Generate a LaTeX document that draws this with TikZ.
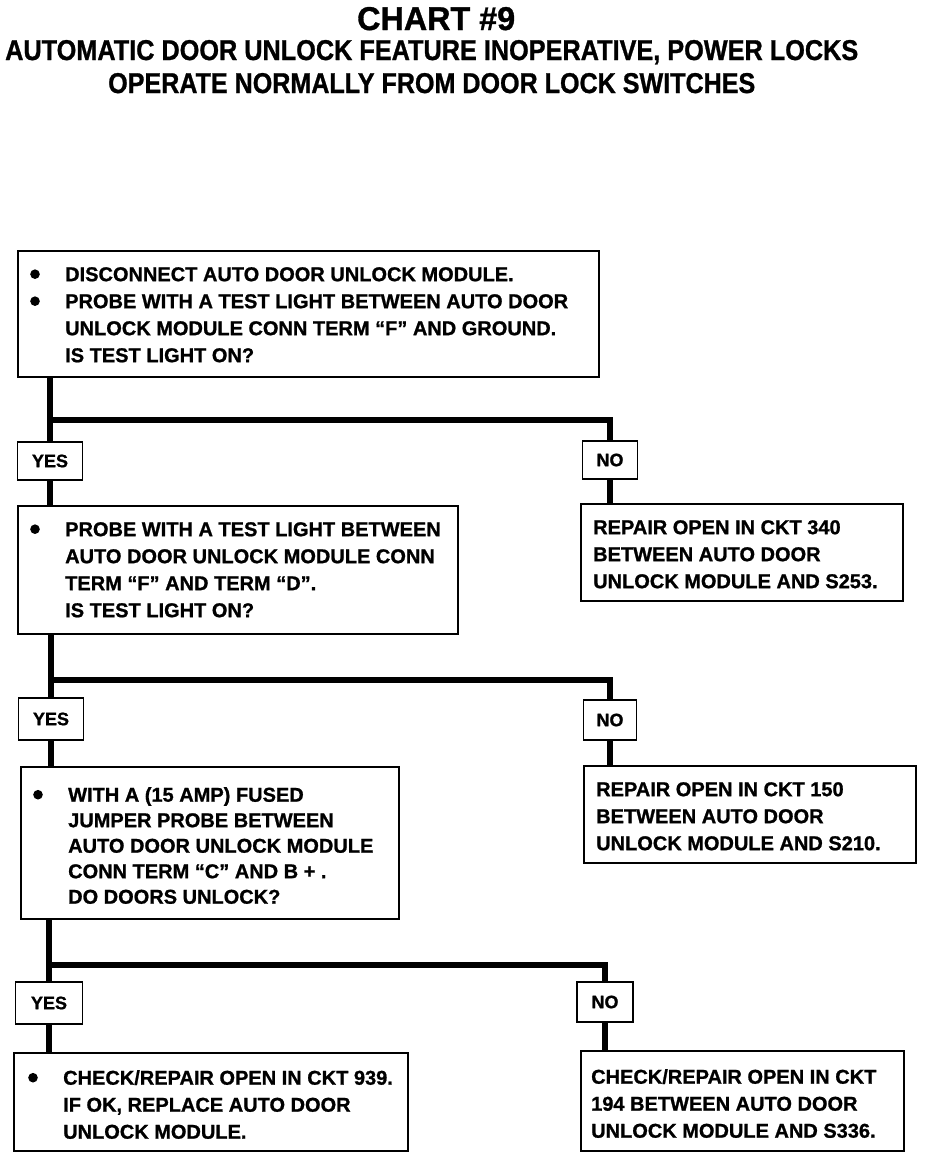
\documentclass[tikz,border=0pt]{standalone}
\usepackage{fontspec}
\setmainfont{Liberation Sans}[BoldFeatures={FakeBold=1}]
\usepackage{graphicx}
\newcommand\bul{\makebox[35pt][l]{\tikz[x=1pt,y=1pt,baseline=0pt]{\fill (5,7) circle[radius=4.8pt];}}}
\newcommand\ind{\hspace*{35pt}}
\begin{document}
\begin{tikzpicture}[x=1pt,y=-1pt,
  box/.style={draw,line width=1.8pt,anchor=north west,inner sep=0pt},
  txt/.style={anchor=north west,inner sep=0pt,align=left,font=\bfseries\fontsize{20}{27}\selectfont},
  lab/.style={draw,line width=1.8pt,inner sep=0pt,font=\bfseries\fontsize{18}{20}\selectfont},
  conn/.style={line width=5.5pt},
  head/.style={anchor=base west,inner sep=0pt,font=\bfseries}]
\useasboundingbox (0,0) rectangle (928,1160);

% titles
\node[head] (title) at (357,30) {\resizebox{158pt}{23pt}{CHART \#9}};
\node[head] (sub1) at (5,60) {\resizebox{853pt}{20pt}{AUTOMATIC DOOR UNLOCK FEATURE INOPERATIVE, POWER LOCKS}};
\node[head] (sub2) at (108,93) {\resizebox{647pt}{20pt}{OPERATE NORMALLY FROM DOOR LOCK SWITCHES}};

% left boxes
\node[box,minimum width=581pt,minimum height=126pt] (b1) at (17,250) {};
\node[txt] (t1) at (30,267) {\bul DISCONNECT AUTO DOOR UNLOCK MODULE.\\
\bul PROBE WITH A TEST LIGHT BETWEEN AUTO DOOR\\
\ind UNLOCK MODULE CONN TERM ``F'' AND GROUND.\\
\ind IS TEST LIGHT ON?};

\node[box,minimum width=440pt,minimum height=128pt] (b2) at (17,505) {};
\node[txt] (t2) at (30,522) {\bul PROBE WITH A TEST LIGHT BETWEEN\\
\ind AUTO DOOR UNLOCK MODULE CONN\\
\ind TERM ``F'' AND TERM ``D''.\\
\ind IS TEST LIGHT ON?};

\node[box,minimum width=378pt,minimum height=152pt] (b3) at (20,766) {};
\node[txt,font=\bfseries\fontsize{20}{25.5}\selectfont] (t3) at (33,787) {\bul WITH A (15 AMP) FUSED\\
\ind JUMPER PROBE BETWEEN\\
\ind AUTO DOOR UNLOCK MODULE\\
\ind CONN TERM ``C'' AND B + .\\
\ind DO DOORS UNLOCK?};

\node[box,minimum width=394pt,minimum height=98pt] (b4) at (13,1052) {};
\node[txt] (t4) at (28,1070) {\bul CHECK/REPAIR OPEN IN CKT 939.\\
\ind IF OK, REPLACE AUTO DOOR\\
\ind UNLOCK MODULE.};

% right boxes
\node[box,minimum width=322pt,minimum height=97pt] (r1) at (580,503) {};
\node[txt] (s1) at (593,520) {REPAIR OPEN IN CKT 340\\
BETWEEN AUTO DOOR\\
UNLOCK MODULE AND S253.};

\node[box,minimum width=332pt,minimum height=97pt] (r2) at (583,765) {};
\node[txt] (s2) at (596,782) {REPAIR OPEN IN CKT 150\\
BETWEEN AUTO DOOR\\
UNLOCK MODULE AND S210.};

\node[box,minimum width=323pt,minimum height=100pt] (r3) at (580,1050) {};
\node[txt] (s3) at (591,1069) {CHECK/REPAIR OPEN IN CKT\\
194 BETWEEN AUTO DOOR\\
UNLOCK MODULE AND S336.};

% yes / no labels
\node[lab,minimum width=65pt,minimum height=38pt] (y1) at (50,461) {YES};
\node[lab,minimum width=55pt,minimum height=38pt] (n1) at (610,460) {NO};
\node[lab,minimum width=65pt,minimum height=42pt] (y2) at (51,719) {YES};
\node[lab,minimum width=53pt,minimum height=40pt] (n2) at (610,720) {NO};
\node[lab,minimum width=67pt,minimum height=42pt] (y3) at (49,1003) {YES};
\node[lab,minimum width=56pt,minimum height=40pt] (n3) at (605,1002) {NO};

\coordinate (h1) at (0,420);
\coordinate (h2) at (0,680);
\coordinate (h3) at (0,965);

% connectors
\draw[conn] (b1.south -| y1) -- (y1.north);
\draw[conn] (y1 |- h1) -| (n1.north);
\draw[conn] (y1.south) -- (y1 |- b2.north);
\draw[conn] (n1.south) -- (n1 |- r1.north);

\draw[conn] (b2.south -| y2) -- (y2.north);
\draw[conn] (y2 |- h2) -| (n2.north);
\draw[conn] (y2.south) -- (y2 |- b3.north);
\draw[conn] (n2.south) -- (n2 |- r2.north);

\draw[conn] (b3.south -| y3) -- (y3.north);
\draw[conn] (y3 |- h3) -| (n3.north);
\draw[conn] (y3.south) -- (y3 |- b4.north);
\draw[conn] (n3.south) -- (n3 |- r3.north);
\end{tikzpicture}
\end{document}
